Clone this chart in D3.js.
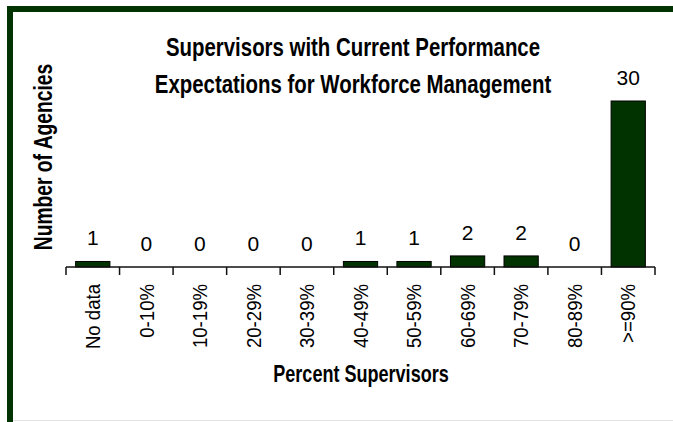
<!DOCTYPE html>
<html>
<head>
<meta charset="utf-8">
<script src="https://cdn.jsdelivr.net/npm/d3@7"></script>
<style>
  body { margin: 0; background: #fff; }
  svg { display: block; }
  text { font-family: "Liberation Sans", Arial, sans-serif; fill: #000; }
</style>
</head>
<body>
<svg id="chart"></svg>
<script>
var width = 673
var height = 422

// chart data
var categories = ["No data", "0-10%", "10-19%", "20-29%", "30-39%", "40-49%",
                  "50-59%", "60-69%", "70-79%", "80-89%", ">=90%"]
var agencies = [1, 0, 0, 0, 0, 1, 1, 2, 2, 0, 30]
var titleLines = ["Supervisors with Current Performance",
                  "Expectations for Workforce Management"]
var xTitle = "Percent Supervisors"
var yTitle = "Number of Agencies"

var green = "#003300"
var narrow = 0.785   // squeeze bold text along its run, looks like Arial Narrow

var svg = d3.select("#chart")
  .attr("width", width)
  .attr("height", height)

svg.append("rect")
  .attr("width", width).attr("height", height)
  .attr("fill", "#fff")

// frame: dark green on top and left, thin grey line at the bottom
svg.append("rect")
  .attr("x", 7).attr("y", 6)
  .attr("width", width - 7).attr("height", 6)
  .attr("fill", green)
svg.append("rect")
  .attr("x", 7).attr("y", 6)
  .attr("width", 6).attr("height", height - 6)
  .attr("fill", green)
svg.append("line")
  .attr("x1", 13).attr("x2", width)
  .attr("y1", height - 1.5).attr("y2", height - 1.5)
  .attr("stroke", "#e3e3e3")

var x = d3.scaleBand()
  .domain(categories)
  .range([66, 655])
  .paddingInner(0.36)
  .paddingOuter(0.18)

var y = d3.scaleLinear()
  .domain([0, 30])
  .range([267, 101])

// bars
svg.append("g")
  .selectAll("rect")
  .data(categories)
  .join("rect")
    .attr("x", d => x(d))
    .attr("width", x.bandwidth())
    .attr("y", (d, i) => y(agencies[i]))
    .attr("height", (d, i) => y(0) - y(agencies[i]))
    .attr("fill", green)
    .attr("stroke", "#000")
    .attr("stroke-width", 1)

// value labels
svg.append("g")
  .selectAll("text")
  .data(categories)
  .join("text")
    .attr("transform", (d, i) => `translate(${x(d) + x.bandwidth() / 2},${y(agencies[i]) - 16}) scale(1.05,1)`)
    .attr("text-anchor", "middle")
    .attr("font-size", 20)
    .text((d, i) => agencies[i])

// x axis: ticks between categories, labels rotated
var step = x.step()
var x0 = x.range()[0]
var axis = svg.append("g")
axis.append("line")
  .attr("x1", x0).attr("x2", x.range()[1])
  .attr("y1", y(0)).attr("y2", y(0))
  .attr("stroke", "#111").attr("stroke-width", 1.5)
axis.selectAll("line.tick")
  .data(d3.range(categories.length + 1))
  .join("line")
    .attr("class", "tick")
    .attr("x1", i => x0 + i * step).attr("x2", i => x0 + i * step)
    .attr("y1", y(0)).attr("y2", y(0) + 8)
    .attr("stroke", "#111").attr("stroke-width", 1.5)
axis.selectAll("text")
  .data(categories)
  .join("text")
    .attr("transform", d => `translate(${x(d) + x.bandwidth() / 2},${y(0) + 17}) rotate(-90) scale(0.93,1)`)
    .attr("text-anchor", "end")
    .attr("dy", "0.36em")
    .attr("font-size", 20)
    .text(d => d)

// titles
svg.append("g")
  .selectAll("text")
  .data(titleLines)
  .join("text")
    .attr("transform", (d, i) => `translate(353,${56 + i * 37}) scale(${narrow},1)`)
    .attr("text-anchor", "middle")
    .attr("font-size", 26)
    .attr("font-weight", "bold")
    .text(d => d)

svg.append("text")
  .attr("transform", `translate(361,382) scale(${narrow},1)`)
  .attr("text-anchor", "middle")
  .attr("font-size", 23)
  .attr("font-weight", "bold")
  .text(xTitle)

svg.append("text")
  .attr("transform", `translate(52,157) rotate(-90) scale(0.77,1)`)
  .attr("text-anchor", "middle")
  .attr("font-size", 25)
  .attr("font-weight", "bold")
  .text(yTitle)
</script>
</body>
</html>
